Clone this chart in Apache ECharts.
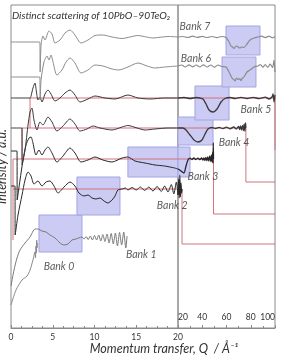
<!DOCTYPE html>
<html>
<head>
<meta charset="utf-8">
<script src="https://cdn.jsdelivr.net/npm/echarts@6/dist/echarts.min.js"></script>
<style>
  html, body { margin: 0; padding: 0; background: #fff; }
  #chart { width: 282px; height: 361px; }
</style>
</head>
<body>
<div id="chart"></div>
<script>
// Q split between the two panels (0-20 left, 20-100 right)
const qSplit = 20;

const bankNames = ['Bank 0', 'Bank 1', 'Bank 2', 'Bank 3', 'Bank 4', 'Bank 5', 'Bank 6', 'Bank 7'];
const bankOffsets = [4.0, 9.0, 13.9, 16.9, 20.0, 23.0, 26.2, 29.1];

// [Q, intensity relative to the bank's offset]
const bank0 = [[0,-1.7],[0.6,-0.2],[1.32,0.8],[1.92,1.2],[2.28,1.8],[2.63,2.8],[2.87,3.6],[2.93,3.0],[2.99,4.2],[3.05,3.5],[3.08,4.8],[3.11,4.0],[3.17,4.5]];
const bank1 = [[0,-4.8],[0.36,-3.2],[0.72,-2.0],[1.08,-1.2],[1.68,-0.5],[2.28,0.1],[2.87,0.9],[3.23,0.9],[3.71,0.7],[4.19,0.6],[4.67,0.3],[5.27,0],[5.87,-0.5],[6.35,-0.7],[6.83,-0.6],[7.31,-0.2],[7.78,-0.1],[8.5,0.1],[8.75,-0.1],[9.0,0.15],[9.25,-0.15],[9.5,0.2],[9.75,-0.2],[10,0.25],[10.25,-0.2],[10.5,0.3],[10.75,-0.3],[11,0.35],[11.25,-0.35],[11.5,0.4],[11.75,-0.5],[12,0.45],[12.25,-0.6],[12.5,0.5],[12.75,-0.8],[13,0.55],[13.25,-0.7],[13.5,0.6],[13.75,-1.0],[13.9,0.2]];
const bank2 = [[0,0.3],[0.48,0.3],[0.5,-4.6],[0.84,-2.6],[1.32,-0.6],[1.68,0.9],[2.04,1.7],[2.4,1.3],[2.75,0.5],[3.23,0.8],[3.71,0.3],[4.19,0.7],[4.67,0.8],[5.15,0.3],[5.63,-0.4],[6.35,0.2],[7.07,0.7],[7.66,0.3],[8.14,-0.4],[8.74,-0.7],[9.22,-0.6],[9.7,-0.9],[10.18,-1.0],[10.66,-0.9],[11.14,-1.2],[11.6,-1.4],[12.1,-1.1],[12.46,-0.7],[12.8,-0.1],[13.3,0],[13.7,0.1],[14.0,-0.1],[14.5,0.15],[15,-0.1],[15.5,0.2],[16,-0.15],[16.5,0.2],[17,-0.2],[17.5,0.25],[18,-0.25],[18.4,0.3],[18.8,-0.3],[19.2,0.45],[19.5,-0.5],[19.8,0.7],[20,-0.6],[20.5,1.0],[21,-0.9],[21.5,1.4],[22,-0.8],[22.5,0.6],[23,-0.4],[23.3,0]];
const bank3 = [[0,0.8],[0.72,0.8],[0.74,-4.1],[1.08,-2.1],[1.44,-0.1],[1.8,1.4],[2.16,2.1],[2.4,2.2],[2.63,1.6],[2.99,0.4],[3.35,0.9],[3.71,0.4],[4.07,0.9],[4.43,1.2],[4.91,0.6],[5.5,-0.3],[6.23,0.3],[7.07,1.1],[7.66,0.6],[8.38,-0.3],[9.22,-0.1],[10.06,0.2],[11.0,-0.1],[12.1,-0.3],[13.3,0.1],[14.0,0.2],[14.85,-0.2],[16.05,-0.4],[17.25,-0.6],[18.4,-0.7],[19.6,-0.9],[20,-1.0],[22.5,-1.2],[24.9,-1.4],[26.6,-0.7],[28.2,-0.1],[30,0.08],[31.5,-0.05],[33,0.1],[34.8,-0.05],[36.5,0.08],[38.1,-0.06],[39.4,0.1],[40.6,-0.1],[41.4,0.12],[42.2,-0.15],[43,0.15],[43.8,-0.18],[44.6,0.2],[45.4,-0.2],[46.2,0.3],[47,-0.25],[47.6,0.4],[48.2,-0.3],[48.6,0.7],[48.9,-0.4],[49.1,1.6],[49.3,0]];
const bank4 = [[0,0],[1.32,0],[1.33,-3.7],[1.68,-2.2],[2.04,0.3],[2.28,1.6],[2.51,2.0],[2.75,0.8],[3.11,-0.2],[3.47,0.6],[3.83,0.3],[4.43,1.1],[4.91,0.6],[5.5,-0.3],[6.23,0.2],[7.07,0.9],[7.66,0.4],[8.26,-0.3],[9.1,-0.1],[9.82,0.2],[10.66,0],[12.1,-0.2],[13.3,0.1],[14.0,0.25],[15.1,0],[16.05,-0.2],[17.25,-0.1],[18.8,0],[20,0],[24.1,0],[26.6,-0.2],[29.9,-0.7],[33.2,-1.2],[36.5,-1.4],[39.8,-1.2],[42.3,-0.6],[44.7,-0.1],[48,0.05],[51,-0.05],[54,0.06],[57,-0.06],[60,0.08],[63,-0.08],[66,0.1],[68,-0.1],[70,0.15],[70.8,-0.15],[71.6,0.2],[72.4,-0.2],[73.2,0.25],[74,-0.25],[74.6,0.4],[75.2,-0.3],[75.8,0.5],[76,0]];
const bank5 = [[0,0],[2.28,0],[2.4,0.2],[2.63,1.0],[2.87,1.5],[3.05,0.6],[3.23,-0.2],[3.47,0.1],[3.71,-0.4],[4.07,0.4],[4.43,0.8],[4.79,0.4],[5.27,-0.3],[5.87,0],[6.47,0.5],[7.07,0.8],[7.66,0.3],[8.26,-0.4],[9.22,-0.1],[10.06,0.2],[11.26,0],[12.46,-0.1],[14.0,0.3],[15.2,0],[16.65,-0.1],[18.4,0],[20,0],[25,0.05],[30,-0.05],[35,0.05],[38.1,0],[40.6,-0.1],[43.1,-0.6],[45.6,-1.2],[48.9,-1.4],[52.2,-1.1],[55.5,-0.4],[58.8,-0.05],[63,0.05],[67,-0.05],[72,0.06],[77,-0.05],[82,0.06],[87,-0.06],[92,0.08],[95,-0.1],[97.5,0.1],[98.4,0.4],[99.2,-0.4],[100,0.3]];
const bank6 = [[0,-1.1],[3.45,-1.1],[3.49,-3.4],[3.6,-1.4],[3.95,0.4],[4.31,1.0],[4.55,0.6],[4.79,1.1],[5.03,0.4],[5.5,-0.9],[6.1,-0.4],[6.59,0.4],[7.07,0.8],[7.66,0.3],[8.38,-0.7],[9.22,-0.4],[10.06,0.1],[11.0,0],[12.1,-0.3],[12.9,-0.4],[14.0,-0.1],[15.2,0.3],[16.3,0],[17.2,-0.2],[18.4,-0.1],[20,0],[23,0.1],[26,-0.1],[29,0.12],[32,-0.08],[35,0.1],[38,-0.1],[41,0.12],[44,-0.1],[47,0.1],[50,-0.12],[53,0.1],[56,-0.05],[59.6,-0.1],[62.1,-0.6],[64.5,-1.2],[66,-1.35],[67,-1.5],[68.3,-1.2],[69.5,-1.35],[70.8,-1.25],[72,-1.45],[73.2,-1.2],[74.4,-1.1],[76.9,-0.6],[79.4,-0.4],[82.7,-0.1],[86,0],[88,0.15],[90,-0.12],[92,0.15],[94,-0.15],[96,0.18],[98,-0.15],[99.2,0.6],[100,-0.6]];
const bank7 = [[0,-0.5],[3.45,-0.5],[3.49,-3.5],[3.6,-0.8],[3.83,0.1],[4.07,-0.3],[4.55,0.6],[4.91,0.3],[5.27,-0.6],[5.87,-0.3],[6.47,0.4],[7.07,0.7],[7.66,0.2],[8.38,-0.6],[9.22,-0.3],[10.06,0.15],[11.0,0.2],[12.1,0],[13.3,-0.15],[14.25,0],[15.2,0.15],[16.2,0],[17.0,-0.1],[18.1,0],[19.0,0.05],[20,0],[24,0.05],[28,-0.05],[32,0.08],[36,-0.04],[40,0.06],[44,-0.05],[48,0.05],[52,-0.06],[56,0.05],[59.6,-0.05],[62.1,-0.5],[63.7,-0.9],[65,-1.0],[66.2,-1.15],[67.5,-0.95],[68.7,-0.9],[70,-1.05],[71.1,-1.1],[72.5,-1.0],[74.4,-1.05],[76.9,-0.7],[79.4,-0.3],[82.7,-0.1],[86,0],[89,0.08],[92,-0.06],[95,0.08],[98,-0.08],[100,0.05]];
const bankData = [bank0, bank1, bank2, bank3, bank4, bank5, bank6, bank7];

// red Q-range steps for banks 2-5 [Q, plotted intensity]
const red2 = [[0.24,13.9],[20,13.9],[23.3,13.9],[23.3,8.4],[100,8.4]];
const red3 = [[0.24,8.8],[0.24,16.9],[20,16.9],[49.3,16.9],[49.3,11.4],[100,11.4]];
const red4 = [[1.32,16.9],[1.32,20.0],[20,20.0],[76,20.0],[76,14.6],[100,14.6]];
const red5 = [[2.28,20.0],[2.28,23.0],[20,23.0],[100,23.0],[100,17.8]];
const redSteps = [red2, red3, red4, red5];

// highlighted Q regions [Qstart, Qend, low, high]
const boxes = [
  [3.35, 8.5, 7.6, 11.3],
  [7.9, 13.05, 11.3, 15.1],
  [14.0, 29.9, 15.1, 18.1],
  [20, 48.9, 18.3, 21.1],
  [34.0, 62.1, 20.8, 24.2],
  [56.3, 84.3, 24.1, 27.1],
  [59.6, 87.6, 27.3, 30.2]
];

// where the bank names sit [Q, intensity]
const labelSpots = [[5.75,6.1],[15.6,7.3],[19.3,12.2],[40.6,15.1],[66.2,18.5],[84.3,21.8],[34.8,26.9],[34.0,30.1]];

const font = 'Lato';
const traceColors = ['#8a8a8a', '#7a7a7a', '#2a2a2a', '#262626', '#3a3a3a', '#3a3a3a', '#8c8c8c', '#8c8c8c'];
// right-panel traces are noisier, drawn a bit heavier
const rightWidths = [1, 1, 1.2, 1.3, 1.3, 1.3, 1.2, 1.2];
const redColor = '#d2737f';

const chart = echarts.init(document.getElementById('chart'));

const panelRange = [[0, qSplit], [qSplit, 100]];
const inPanel = (pts, g) => pts.filter(p => g === 0 ? p[0] <= qSplit : p[0] >= qSplit);

const series = [];

// boxes
[0, 1].forEach(g => {
  const lo = panelRange[g][0], hi = panelRange[g][1];
  const items = boxes.filter(b => b[0] < hi && b[1] > lo)
    .map(b => [Math.max(b[0], lo), Math.min(b[1], hi), b[2], b[3]]);
  series.push({
    type: 'custom', xAxisIndex: g, yAxisIndex: g, z: 1, silent: true,
    data: items,
    renderItem: function (params, api) {
      const a = api.coord([api.value(0), api.value(3)]);
      const b = api.coord([api.value(1), api.value(2)]);
      return {
        type: 'rect',
        shape: { x: a[0], y: a[1], width: b[0] - a[0], height: b[1] - a[1] },
        style: { fill: '#cbcbf4', stroke: '#a4a4e4', lineWidth: 1 }
      };
    }
  });
});

// red steps
redSteps.forEach(pts => {
  [0, 1].forEach(g => {
    const d = inPanel(pts, g);
    if (d.length < 2) return;
    series.push({
      type: 'line', xAxisIndex: g, yAxisIndex: g, z: 2, silent: true,
      data: d, symbol: 'none',
      lineStyle: { color: redColor, width: 1 }
    });
  });
});

// traces
bankData.forEach((pts, i) => {
  const abs = pts.map(p => [p[0], +(p[1] + bankOffsets[i]).toFixed(2)]);
  [0, 1].forEach(g => {
    const d = inPanel(abs, g);
    if (d.length < 2) return;
    series.push({
      type: 'line', xAxisIndex: g, yAxisIndex: g, z: 3, silent: true,
      data: d, symbol: 'none', smooth: 0.25,
      lineStyle: { color: traceColors[i], width: g === 0 ? 1 : rightWidths[i] }
    });
  });
});

// bank labels
[0, 1].forEach(g => {
  const d = [];
  labelSpots.forEach((s, i) => {
    if ((g === 0) === (s[0] <= qSplit)) d.push({ value: s, name: bankNames[i] });
  });
  series.push({
    type: 'scatter', xAxisIndex: g, yAxisIndex: g, z: 4, silent: true,
    data: d, symbolSize: 1, itemStyle: { color: 'rgba(0,0,0,0)' },
    label: {
      show: true, position: 'inside', formatter: p => p.name,
      fontFamily: font, fontStyle: 'italic', fontSize: 10.5, color: '#333'
    }
  });
});

const axisCol = '#8a8a8a';
const option = {
  animation: false,
  backgroundColor: '#fff',
  title: [
    {
      text: 'Distinct scattering of 10PbO–90TeO₂', left: 12, top: 11, padding: 0,
      textStyle: { fontFamily: font, fontStyle: 'italic', fontWeight: 'normal', fontSize: 10.2, color: '#333' }
    },
    {
      text: 'Momentum transfer, Q  / Å⁻¹', left: 164, top: 342, padding: 0, textAlign: 'center',
      textStyle: { fontFamily: font, fontStyle: 'italic', fontWeight: 'normal', fontSize: 12.5, color: '#333' }
    }
  ],
  grid: [
    { left: 11, right: 104, top: 5, bottom: 33, outerBoundsMode: 'none', show: true, borderColor: axisCol, borderWidth: 1 },
    { left: 178, right: 7, top: 5, bottom: 33, outerBoundsMode: 'none', show: true, borderColor: axisCol, borderWidth: 1 }
  ],
  xAxis: [
    {
      gridIndex: 0, type: 'value', min: 0, max: 20, interval: 5,
      axisLine: { show: true, lineStyle: { color: axisCol } },
      axisTick: { show: true, inside: true, length: 3, lineStyle: { color: axisCol } },
      minorTick: { show: true, splitNumber: 4, length: 2, lineStyle: { color: axisCol } },
      axisLabel: { fontFamily: font, fontSize: 8.5, color: '#333', margin: 5 },
      splitLine: { show: false }
    },
    {
      gridIndex: 1, type: 'value', min: 20, max: 100, interval: 20,
      axisLine: { show: true, lineStyle: { color: axisCol } },
      axisTick: { show: true, inside: true, length: 3, lineStyle: { color: axisCol } },
      minorTick: { show: true, splitNumber: 2, length: 2, lineStyle: { color: axisCol } },
      axisLabel: { inside: true, margin: 6, fontFamily: font, fontSize: 8.5, color: '#333', alignMinLabel: 'left', alignMaxLabel: 'right' },
      splitLine: { show: false }
    }
  ],
  yAxis: [
    {
      gridIndex: 0, type: 'value', min: 0, max: 32.3,
      axisLine: { show: false }, axisTick: { show: false }, axisLabel: { show: false }, splitLine: { show: false },
      name: 'Intensity / a.u.', nameLocation: 'middle', nameRotate: 90, nameGap: 3,
      nameTextStyle: { fontFamily: font, fontStyle: 'italic', fontSize: 12.5, color: '#333' }
    },
    {
      gridIndex: 1, type: 'value', min: 0, max: 32.3, show: false
    }
  ],
  series: series
};

chart.setOption(option);
window.addEventListener('resize', function () {
  chart.resize();
});
</script>
</body>
</html>
